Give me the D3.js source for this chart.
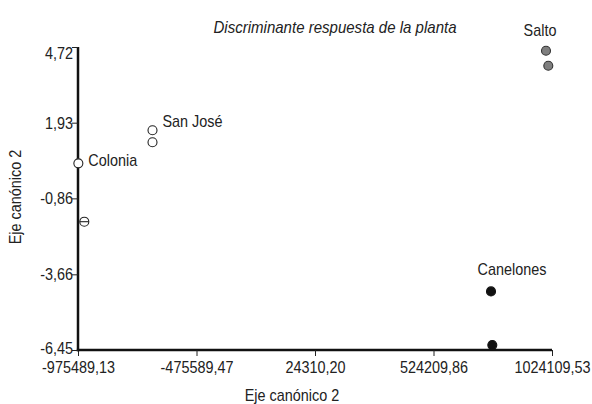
<!DOCTYPE html>
<html>
<head>
<meta charset="utf-8">
<script src="https://cdn.jsdelivr.net/npm/d3@7"></script>
<style>
  body { margin: 0; background: white; }
  svg { font-family: "Liberation Sans", Arial, sans-serif; }
</style>
</head>
<body>
<svg id="graph"></svg>
<script>
// values
var groups = ["Colonia", "San José", "Salto", "Canelones"];
var groupX = [
    [-974000, -948900],
    [-661200, -661200],
    [998800, 1008500],
    [766800, 772300]
];
var groupY = [
    [0.43, -1.72],
    [1.65, 1.21],
    [4.58, 4.03],
    [-4.29, -6.27]
];
var xTicks = [-975489.13, -475589.47, 24310.20, 524209.86, 1024109.53];
var yTicks = [4.72, 1.93, -0.86, -3.66, -6.45];

var dimensions = {
    width: 592,
    height: 404,
    margin: { top: 47, bottom: 54, right: 40, left: 78 }
}
var squeeze = 0.9; // the original font is a narrow sans

var svg = d3.select("#graph")
            .attr("width", dimensions.width)
            .attr("height", dimensions.height)

var fmt = d3.formatLocale({ decimal: ",", thousands: "", grouping: [3], currency: ["", ""], minus: "-" }).format(".2f");

var xScale = d3.scaleLinear()
               .domain([xTicks[0], xTicks[xTicks.length - 1]])
               .range([dimensions.margin.left, dimensions.width - dimensions.margin.right])

var yScale = d3.scaleLinear()
               .domain([yTicks[yTicks.length - 1], yTicks[0]])
               .range([dimensions.height - dimensions.margin.bottom, dimensions.margin.top])

var styles = [
    { fill: "white", stroke: "#222" },
    { fill: "white", stroke: "#222" },
    { fill: "#7f7f7f", stroke: "#333" },
    { fill: "#111", stroke: "#111" }
];

var points = [];
groups.forEach(function(g, i){
    groupX[i].forEach(function(x, j){
        points.push({ group: g, gi: i, x: x, y: groupY[i][j] });
    });
});

// place a narrowed text at x,y
function narrowText(sel, x, y, k) {
    return sel.attr("transform", "translate(" + x + "," + y + ") scale(" + (k || squeeze) + ",1)");
}

// axes
var xAxisGen = d3.axisBottom(xScale).tickValues(xTicks).tickFormat(fmt).tickSize(6).tickSizeOuter(0);
var xAxis = svg.append("g")
               .attr("transform", "translate(0," + (dimensions.height - dimensions.margin.bottom) + ")")
               .call(xAxisGen);
xAxis.select(".domain").attr("stroke-width", 2.5).attr("stroke", "#111")
     .attr("d", "M" + (dimensions.margin.left - 1.2) + ",0H" + (dimensions.width - dimensions.margin.right));
xAxis.selectAll("line").attr("stroke", "#222");
xAxis.selectAll("text")
     .style("font-size", "16px").attr("fill", "#222")
     .attr("y", 0).attr("dy", 0)
     .attr("transform", "translate(0,23) scale(" + squeeze + ",1)");

var yAxisGen = d3.axisLeft(yScale).tickValues(yTicks).tickFormat(fmt).tickSize(6).tickSizeOuter(0);
var yAxis = svg.append("g")
               .attr("transform", "translate(" + dimensions.margin.left + ",0)")
               .call(yAxisGen);
yAxis.select(".domain").attr("stroke-width", 2.5).attr("stroke", "#111")
     .attr("d", "M0," + dimensions.margin.top + "V" + (dimensions.height - dimensions.margin.bottom + 1.2));
yAxis.selectAll("line").attr("stroke", "#222");
yAxis.selectAll("text")
     .style("font-size", "16px").attr("fill", "#222")
     .attr("x", 0).attr("dy", 0)
     .attr("transform", function(d, i){ return "translate(-5," + (i === 0 ? 11 : (i === yTicks.length - 1 ? 3.5 : 5.5)) + ") scale(" + squeeze + ",1)" });

// points
svg.append("g")
   .selectAll("circle")
   .data(points)
   .enter()
   .append("circle")
   .attr("cx", function(d){ return xScale(d.x) })
   .attr("cy", function(d){ return yScale(d.y) })
   .attr("r", 4.5)
   .attr("fill", function(d){ return styles[d.gi].fill })
   .attr("stroke", function(d){ return styles[d.gi].stroke })
   .attr("stroke-width", 1.1);

// the doubled Colonia marker shows a line across it
var c2 = points[1];
svg.append("line")
   .attr("x1", xScale(c2.x) - 4.5).attr("x2", xScale(c2.x) + 4.5)
   .attr("y1", yScale(c2.y)).attr("y2", yScale(c2.y))
   .attr("stroke", "#222").attr("stroke-width", 1.1);

// group labels
var labelPos = [
    { dx: 10, dy: 3, anchor: "start" },
    { dx: 10, dy: -3, anchor: "start" },
    { dx: -6, dy: -15, anchor: "middle" },
    { dx: 21, dy: -16, anchor: "middle" }
];
svg.append("g")
   .selectAll("text")
   .data(groups)
   .enter()
   .append("text")
   .each(function(d, i){
       narrowText(d3.select(this), xScale(groupX[i][0]) + labelPos[i].dx, yScale(groupY[i][0]) + labelPos[i].dy);
   })
   .attr("text-anchor", function(d, i){ return labelPos[i].anchor })
   .style("font-size", "16px")
   .attr("fill", "#222")
   .text(function(d){ return d });

// titles
narrowText(svg.append("text"), 335, 33, 0.94)
    .attr("text-anchor", "middle")
    .style("font-size", "16px")
    .style("font-style", "italic")
    .attr("fill", "#222")
    .text("Discriminante respuesta de la planta");

narrowText(svg.append("text"), 292, 401)
    .attr("text-anchor", "middle")
    .style("font-size", "16px")
    .attr("fill", "#222")
    .text("Eje canónico 2");

svg.append("text")
    .attr("transform", "translate(21,197) rotate(-90) scale(" + squeeze + ",1)")
    .attr("text-anchor", "middle")
    .style("font-size", "16px")
    .attr("fill", "#222")
    .text("Eje canónico 2");
</script>
</body>
</html>
